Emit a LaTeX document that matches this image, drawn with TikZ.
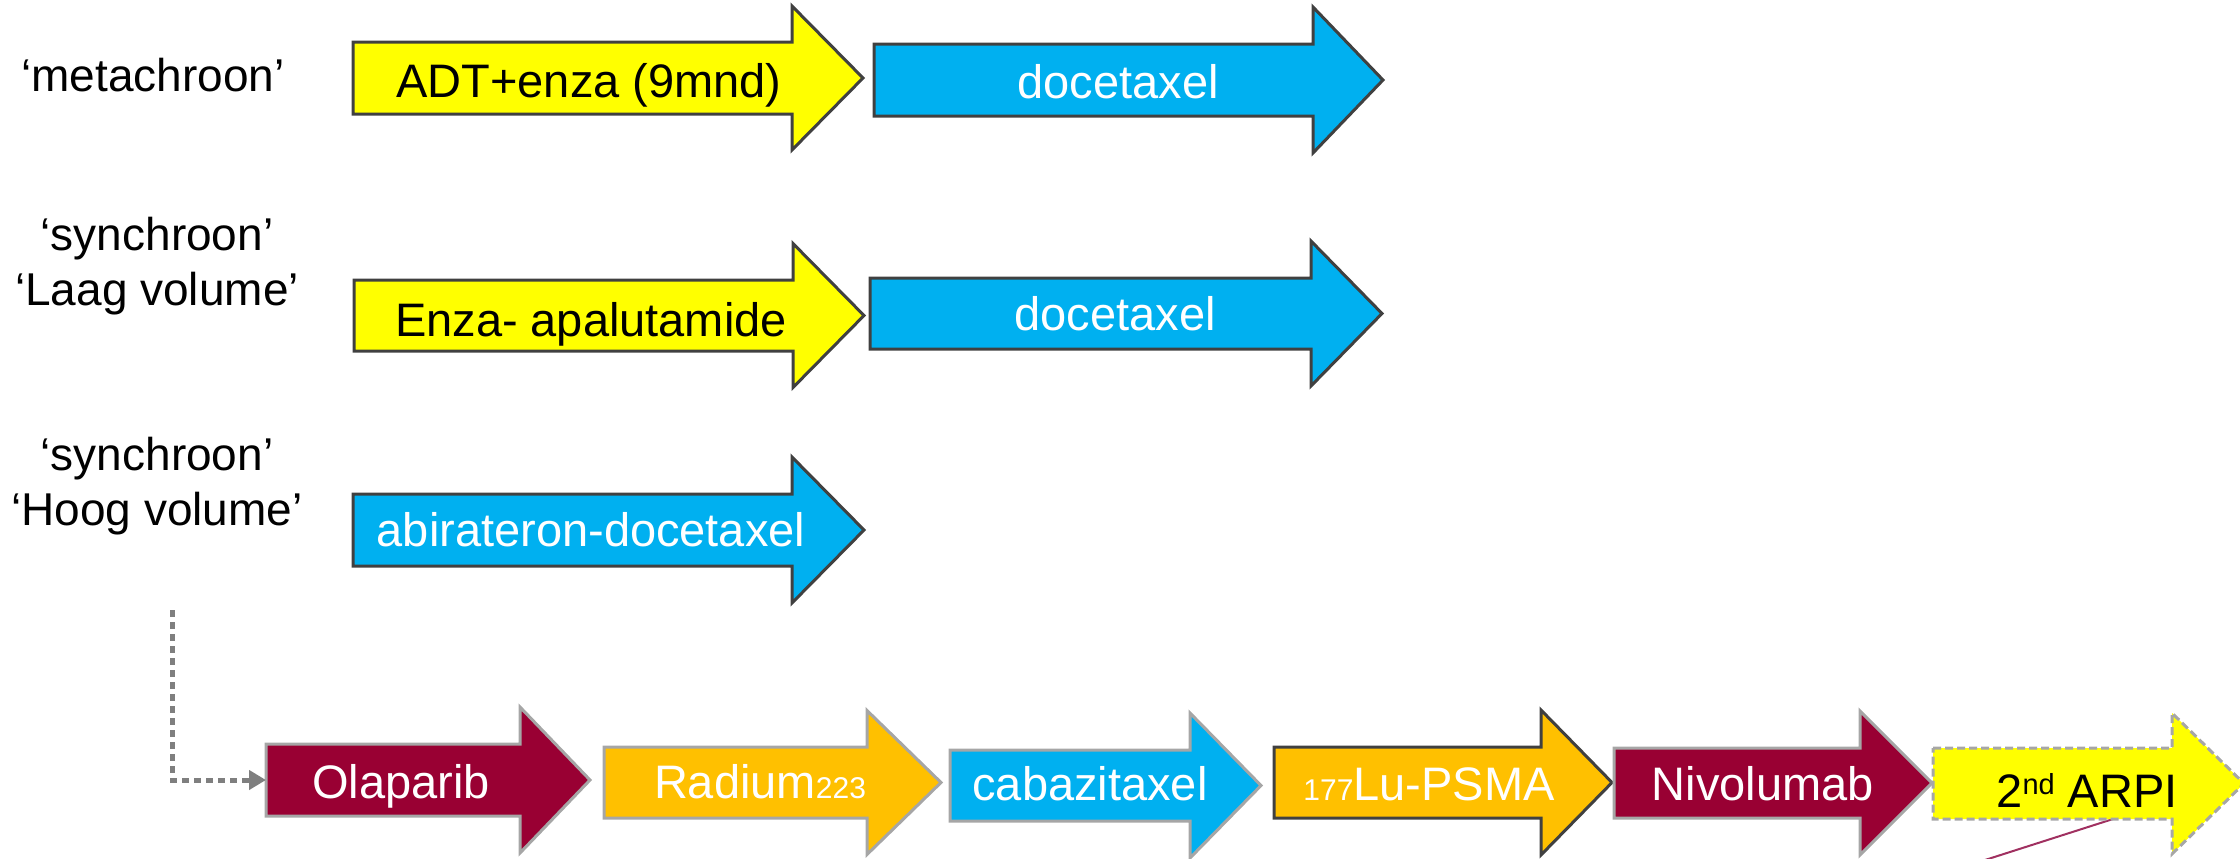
\documentclass[tikz,border=0pt]{standalone}
\usepackage{fontspec}
\setmainfont{Liberation Sans}
\usetikzlibrary{arrows.meta}
\definecolor{cYel}{HTML}{FFFF00}
\definecolor{cBlue}{HTML}{00B0F0}
\definecolor{cMar}{HTML}{990033}
\definecolor{cGold}{HTML}{FFC000}
\definecolor{cDark}{HTML}{404040}
\definecolor{cLight}{HTML}{A6A6A6}
\definecolor{cLine}{HTML}{A03060}
\definecolor{cDot}{HTML}{7F7F7F}
% #1 style, #2 left x, #3 tip x, #4 centre y, #5 body half height, #6 head half height, #7 head length
\newcommand\rarr[7]{\draw[#1] (#2,#4-#5) -- (#3-#7,#4-#5) -- (#3-#7,#4-#6) -- (#3,#4) -- (#3-#7,#4+#6) -- (#3-#7,#4+#5) -- (#2,#4+#5) -- cycle;}
\begin{document}
\begin{tikzpicture}[x=0.5pt,y=-0.5pt,
  topbox/.style={draw=cDark, line width=1.5pt, line join=miter},
  botbox/.style={draw=cLight, line width=1.5pt, line join=miter},
  arrtxt/.style={font=\fontsize{23.5}{28}\selectfont, anchor=base, inner sep=0pt},
  wtxt/.style={arrtxt, text=white},
  lbl/.style={font=\fontsize{23}{27.5}\selectfont, anchor=base, align=center, inner sep=0pt},
  dotc/.style={draw=cDot, line width=2.5pt, dash pattern=on 3.5pt off 2.5pt, -{Triangle[length=8.5pt,width=9.5pt]}},
  sub/.style={}]
\useasboundingbox (0,0) rectangle (2240,858);
% labels
\node[lbl] (lab1) at (153,91) {‘metachroon’};
\node[lbl] (lab2) at (157,305) {‘synchroon’\\‘Laag volume’};
\node[lbl] (lab3) at (157,525) {‘synchroon’\\‘Hoog volume’};
% row 1
\rarr{topbox, fill=cYel}{353}{863}{78}{36}{72}{71}
\rarr{topbox, fill=cBlue}{874}{1383}{80}{36}{73}{70}
\node[arrtxt] (adt) at (589,97) {ADT+enza (9mnd)};
\node[wtxt] (doc1) at (1118,98) {docetaxel};
% row 2
\rarr{topbox, fill=cYel}{354}{864}{315.5}{35.5}{72}{71}
\rarr{topbox, fill=cBlue}{870}{1382}{313.5}{35.5}{72.5}{71}
\node[arrtxt] (enza) at (591,336) {Enza- apalutamide};
\node[wtxt] (doc2) at (1115,330) {docetaxel};
% row 3
\rarr{topbox, fill=cBlue}{353}{864}{530}{36}{73}{72}
\node[wtxt] (abi) at (591,546) {abirateron-docetaxel};
% bottom row
\coordinate (ml1) at (1985,860);
\coordinate (ml2) at (2113,819);
\draw[cLine, line width=1pt] (ml1) -- (ml2);
\rarr{botbox, fill=cMar}{266}{590}{780}{36}{73}{70}
\rarr{botbox, fill=cGold}{604}{941}{782.5}{35.5}{72}{74}
\rarr{botbox, fill=cBlue}{950}{1261}{785.5}{35.5}{72.5}{71}
\rarr{topbox, fill=cGold}{1274}{1612}{782.5}{35.5}{72.5}{71}
\rarr{botbox, fill=cMar}{1614}{1932}{783}{35}{72}{72}
\rarr{botbox, fill=cYel, dash pattern=on 4pt off 2pt}{1933}{2244}{783.5}{35.5}{70.5}{72}
\node[wtxt] (ola) at (401,798) {Olaparib};
\node[wtxt] (rad) at (760,798) {Radium{\fontsize{15}{15}\selectfont 223}};
\node[wtxt] (cab) at (1090,800) {cabazitaxel};
\node[wtxt] (lu) at (1429,800) {{\fontsize{15}{15}\selectfont 177}Lu-PSMA};
\node[wtxt] (niv) at (1763,800) {Nivolumab};
\node[arrtxt] (arpi) at (2087,807) {2\raisebox{6.5pt}{\fontsize{14.5}{15}\selectfont nd} ARPI};
% dotted connector
\coordinate (hvs) at (172,610);
\coordinate (olw) at (266,780);
\draw[dotc] (hvs) |- (olw);
\end{tikzpicture}
\end{document}
